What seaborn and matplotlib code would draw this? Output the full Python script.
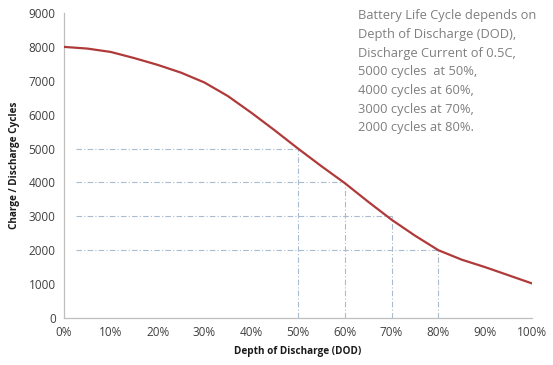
import numpy as np
import pandas as pd
import seaborn as sns
import matplotlib.pyplot as plt

# values
dod = [0, 5, 10, 15, 20, 25, 30, 35, 40, 45, 50, 55, 60, 65, 70, 75, 80, 85, 90, 95, 100]
cycles = [8000, 7950, 7850, 7670, 7470, 7240, 6950, 6550, 6060, 5540, 5000,
          4480, 3980, 3430, 2900, 2430, 2000, 1720, 1500, 1260, 1020]

# highlighted points (dashed guides)
ref_dod = [50, 60, 70, 80]
ref_cycles = [5000, 4000, 3000, 2000]
guide_start = 2.5

xticks = list(range(0, 101, 10))
xticklabels = [f"{t}%" for t in xticks]
yticks = list(range(0, 9001, 1000))

note = ("Battery Life Cycle depends on\n"
        "Depth of Discharge (DOD),\n"
        "Discharge Current of 0.5C,\n"
        "5000 cycles  at 50%,\n"
        "4000 cycles at 60%,\n"
        "3000 cycles at 70%,\n"
        "2000 cycles at 80%.")

sns.set_style("white")
plt.rcParams['font.family'] = ['Open Sans', 'DejaVu Sans']

fig = plt.figure(figsize=(5.53, 3.65), dpi=100)
ax = fig.add_axes([0.1157, 0.1288, 0.8463, 0.8356])

df = pd.DataFrame({'DOD': dod, 'Cycles': cycles})

guide_col = '#A9BCCF'
guide_ls = (0, (5, 2, 1, 2))
for x, y in zip(ref_dod, ref_cycles):
    ax.plot([guide_start, x], [y, y], color=guide_col, lw=0.8, ls=guide_ls, zorder=1)
    ax.plot([x, x], [0, y], color=guide_col, lw=0.8, ls=guide_ls, zorder=1)

sns.lineplot(data=df, x='DOD', y='Cycles', ax=ax, color='#B03A3A', lw=1.6, zorder=3)

ax.set_xlim(0, 100)
ax.set_ylim(0, 9000)
ax.set_xticks(xticks)
ax.set_xticklabels(xticklabels)
ax.set_yticks(yticks)
ax.tick_params(axis='both', labelsize=8.5, colors='#404040', length=3, width=0.8,
               direction='in', pad=6)
ax.tick_params(axis='both', color='#BFBFBF')
for s in ['top', 'right']:
    ax.spines[s].set_visible(False)
for s in ['left', 'bottom']:
    ax.spines[s].set_color('#BFBFBF')
    ax.spines[s].set_linewidth(0.9)

ax.set_xlabel('Depth of Discharge (DOD)', fontsize=7.2, fontweight='bold', color='#1A1A1A', labelpad=5)
ax.set_ylabel('Charge / Discharge Cycles', fontsize=7.2, fontweight='bold', color='#1A1A1A', labelpad=6)

fig.text(0.647, 0.975, note, fontsize=9.3, color='#7F7F7F', va='top', ha='left', linespacing=1.57)

fig.savefig('out.png', dpi=100)
